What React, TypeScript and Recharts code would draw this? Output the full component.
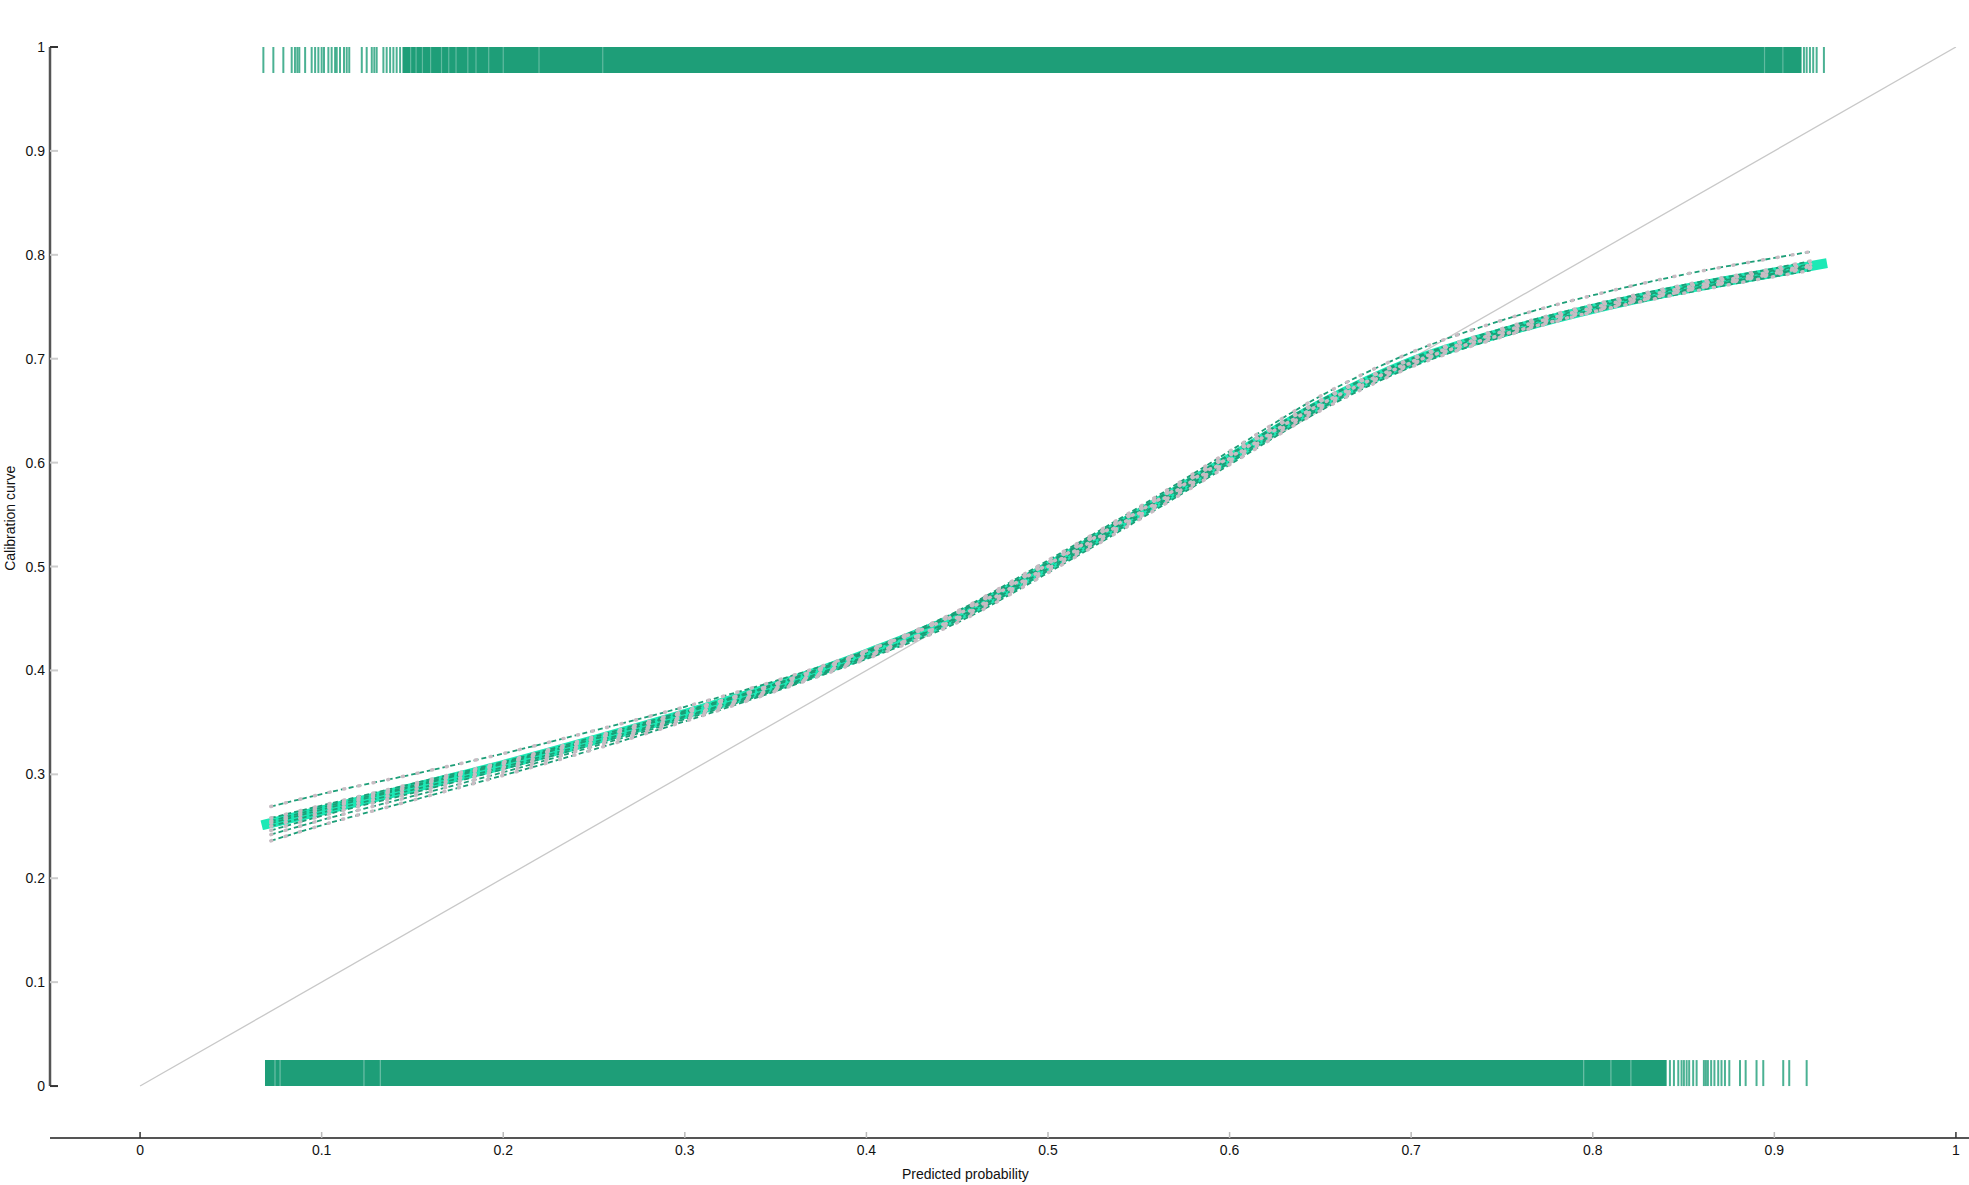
import React from "react"
import {
  ComposedChart,
  Line,
  XAxis,
  YAxis,
  ReferenceArea,
  ReferenceLine,
  Label
} from 'recharts'

// axis ticks
const xTicks = [0, 0.1, 0.2, 0.3, 0.4, 0.5, 0.6, 0.7, 0.8, 0.9, 1]
const yTicks = [0, 0.1, 0.2, 0.3, 0.4, 0.5, 0.6, 0.7, 0.8, 0.9, 1]

// 45 degree reference
const diagonal = [0, 1]

// main calibration curve
const mainProb = [0.067, 0.1, 0.15, 0.2, 0.25, 0.3, 0.35, 0.4, 0.45, 0.5, 0.55, 0.6, 0.65, 0.7, 0.75, 0.8, 0.85, 0.9, 0.929]
const mainCal = [0.251, 0.265, 0.287, 0.309, 0.333, 0.358, 0.385, 0.416, 0.452, 0.5, 0.551, 0.604, 0.656, 0.697, 0.725, 0.748, 0.767, 0.783, 0.792]

// bootstrap curves
const bootProb = [0.072, 0.1, 0.15, 0.2, 0.25, 0.3, 0.35, 0.4, 0.45, 0.5, 0.55, 0.6, 0.65, 0.7, 0.75, 0.8, 0.85, 0.9, 0.92]
const boot1 = [0.269, 0.281, 0.3, 0.32, 0.342, 0.365, 0.39, 0.419, 0.454, 0.502, 0.553, 0.605, 0.656, 0.696, 0.723, 0.745, 0.763, 0.779, 0.785]
const boot2 = [0.258, 0.27, 0.291, 0.312, 0.336, 0.361, 0.387, 0.419, 0.457, 0.506, 0.557, 0.611, 0.664, 0.706, 0.737, 0.761, 0.781, 0.797, 0.803]
const boot3 = [0.255, 0.268, 0.289, 0.311, 0.334, 0.359, 0.386, 0.417, 0.455, 0.503, 0.554, 0.607, 0.659, 0.699, 0.727, 0.75, 0.769, 0.785, 0.791]
const boot4 = [0.25, 0.263, 0.285, 0.307, 0.331, 0.356, 0.383, 0.414, 0.45, 0.498, 0.549, 0.602, 0.654, 0.695, 0.724, 0.747, 0.766, 0.782, 0.788]
const boot5 = [0.246, 0.26, 0.282, 0.305, 0.329, 0.355, 0.382, 0.413, 0.448, 0.496, 0.547, 0.6, 0.652, 0.694, 0.722, 0.746, 0.765, 0.781, 0.787]
const boot6 = [0.242, 0.256, 0.279, 0.302, 0.327, 0.353, 0.381, 0.413, 0.451, 0.5, 0.551, 0.604, 0.656, 0.697, 0.726, 0.749, 0.768, 0.784, 0.79]
const boot7 = [0.236, 0.251, 0.275, 0.299, 0.324, 0.351, 0.38, 0.411, 0.446, 0.494, 0.545, 0.598, 0.65, 0.692, 0.721, 0.745, 0.765, 0.782, 0.789]
const boot8 = [0.253, 0.266, 0.288, 0.31, 0.334, 0.36, 0.387, 0.418, 0.456, 0.504, 0.555, 0.608, 0.66, 0.7, 0.729, 0.752, 0.771, 0.787, 0.794]

// rug of observed events (top) and non-events (bottom)
const topRugTicks = [0.0679, 0.0734, 0.0789, 0.0835, 0.0853, 0.0866, 0.0877, 0.0909, 0.0945, 0.0964, 0.0982, 0.1, 0.1013, 0.1037, 0.1055, 0.1074, 0.1083, 0.1101, 0.1123, 0.1138, 0.1152, 0.1221, 0.1248, 0.1276, 0.129, 0.1303, 0.134, 0.1358, 0.1377, 0.1395, 0.1413, 0.1432, 0.9163, 0.9178, 0.9196, 0.9214, 0.9233, 0.9273]
const topRugBlocks = [[0.1445, 0.915]]
const topRugGaps = [0.149, 0.152, 0.1555, 0.16, 0.166, 0.17, 0.174, 0.1805, 0.185, 0.192, 0.2, 0.2197, 0.2548, 0.8946, 0.9047]
const bottomRugTicks = [0.8425, 0.8447, 0.8471, 0.8489, 0.8502, 0.8517, 0.8531, 0.8553, 0.8572, 0.8612, 0.8623, 0.8634, 0.8652, 0.867, 0.8691, 0.8709, 0.8728, 0.8752, 0.8811, 0.8842, 0.8902, 0.8939, 0.9049, 0.9082, 0.9178]
const bottomRugBlocks = [[0.0688, 0.8407]]
const bottomRugGaps = [0.0743, 0.0771, 0.1233, 0.1323, 0.795, 0.81, 0.821]

const rugGreen = "#1e9e78"
const xMin = -0.0496
const xMax = 1.0072

const toRows = (xs: number[], ys: number[]) => xs.map((p, i) => ({ p, v: ys[i] }))

function XTick({ x, y, payload }: any) {
  const edge = payload.value === 0 || payload.value === 1
  return (
    <g>
      <line x1={x} x2={x} y1={y - 6} y2={y} stroke={edge ? "#333" : "#bbb"} strokeWidth={1.5} />
      <text x={x} y={y + 17} textAnchor="middle" fontSize={14} fill="#111">{payload.value}</text>
    </g>
  )
}

function YTick({ x, y, payload }: any) {
  const edge = payload.value === 0 || payload.value === 1
  return (
    <g>
      <text x={x} y={y + 5} textAnchor="end" fontSize={14} fill="#111">{payload.value}</text>
      <line x1={x + 5} x2={x + 13} y1={y} y2={y} stroke={edge ? "#333" : "#ccc"} strokeWidth={2} />
    </g>
  )
}

function App() {
  const boots = [boot1, boot2, boot3, boot4, boot5, boot6, boot7, boot8]
  return (
    <div style={{ position: 'absolute', left: 0, top: 0, width: 1969, height: 1185, overflow: 'hidden', background: '#fff', fontFamily: '"Liberation Sans", Arial, sans-serif' }}>
      <ComposedChart width={1969} height={1185} margin={{ top: 47, right: 0, bottom: 0, left: 0 }}>
        <XAxis
          type="number"
          dataKey="p"
          domain={[xMin, xMax]}
          ticks={xTicks}
          allowDataOverflow
          height={47}
          tickSize={0}
          tickMargin={0}
          tickLine={false}
          axisLine={{ stroke: "#555", strokeWidth: 2 }}
          tick={<XTick />}
        >
          <Label content={({ viewBox }: any) => (
            <text x={viewBox.x + viewBox.width * 0.477} y={viewBox.y + 41} textAnchor="middle" fontSize={14} fill="#111">Predicted probability</text>
          )} />
        </XAxis>
        <YAxis
          type="number"
          dataKey="v"
          domain={[-0.05, 1]}
          ticks={yTicks}
          allowDataOverflow
          width={50}
          tickSize={0}
          tickMargin={5}
          tickLine={false}
          axisLine={false}
          tick={<YTick />}
        >
          <Label content={({ viewBox }: any) => {
            const cx = viewBox.x + 10
            const cy = viewBox.y + viewBox.height * 0.432
            return <text x={cx} y={cy} transform={`rotate(-90, ${cx}, ${cy})`} textAnchor="middle" dominantBaseline="central" fontSize={14} fill="#111">Calibration curve</text>
          }} />
        </YAxis>

        <ReferenceLine segment={[{ x: xMin, y: 0 }, { x: xMin, y: 1 }]} stroke="#555" strokeWidth={2.5} />

        {topRugBlocks.map(([a, b], i) => (
          <ReferenceArea key={`tb${i}`} x1={a} x2={b} y1={0.975} y2={1} fill={rugGreen} fillOpacity={1} stroke="none" />
        ))}
        {topRugGaps.map((p, i) => (
          <ReferenceLine key={`tg${i}`} segment={[{ x: p, y: 0.975 }, { x: p, y: 1 }]} stroke="#fff" strokeOpacity={0.3} strokeWidth={1.2} />
        ))}
        {topRugTicks.map((p, i) => (
          <ReferenceLine key={`tt${i}`} segment={[{ x: p, y: 0.975 }, { x: p, y: 1 }]} stroke={rugGreen} strokeOpacity={0.8} strokeWidth={2} />
        ))}
        {bottomRugBlocks.map(([a, b], i) => (
          <ReferenceArea key={`bb${i}`} x1={a} x2={b} y1={0} y2={0.025} fill={rugGreen} fillOpacity={1} stroke="none" />
        ))}
        {bottomRugGaps.map((p, i) => (
          <ReferenceLine key={`bg${i}`} segment={[{ x: p, y: 0 }, { x: p, y: 0.025 }]} stroke="#fff" strokeOpacity={0.35} strokeWidth={1.2} />
        ))}
        {bottomRugTicks.map((p, i) => (
          <ReferenceLine key={`bt${i}`} segment={[{ x: p, y: 0 }, { x: p, y: 0.025 }]} stroke={rugGreen} strokeOpacity={0.8} strokeWidth={2} />
        ))}

        <Line data={toRows(diagonal, diagonal)} dataKey="v" type="linear" stroke="#c8c8c8" strokeWidth={1.3} dot={false} activeDot={false} isAnimationActive={false} />

        <Line data={toRows(mainProb, mainCal)} dataKey="v" type="monotone" stroke="#1de9b6" strokeWidth={10} dot={false} activeDot={false} isAnimationActive={false} />

        {boots.map((b, i) => (
          <Line key={`bl${i}`} data={toRows(bootProb, b)} dataKey="v" type="monotone" stroke="#1b9e77" strokeWidth={1.8} strokeDasharray="5 3" dot={false} activeDot={false} isAnimationActive={false} />
        ))}
        {boots.map((b, i) => (
          <Line key={`bm${i}`} data={toRows(bootProb, b)} dataKey="v" type="monotone" stroke="#c8bcc3" strokeWidth={3.5} strokeLinecap="round" strokeDasharray="1 14" dot={false} activeDot={false} isAnimationActive={false} />
        ))}
      </ComposedChart>
    </div>
  )
}

export default App
